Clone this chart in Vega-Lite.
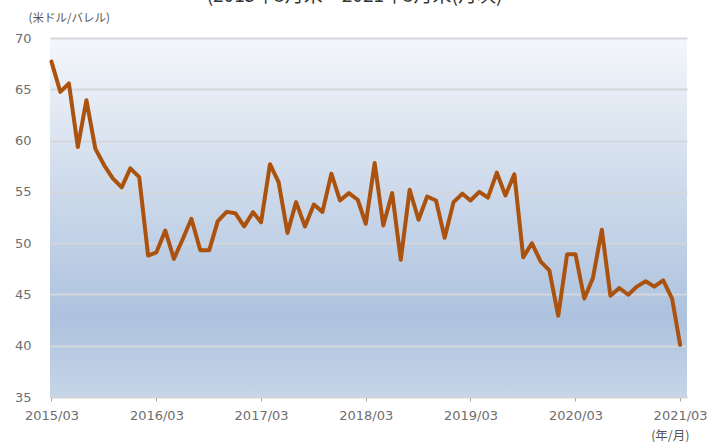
{
  "$schema": "https://vega.github.io/schema/vega-lite/v6.json",
  "width": 637,
  "height": 359,
  "autosize": "none",
  "padding": {"left": 50, "top": 38, "right": 40, "bottom": 45},
  "background": "white",
  "title": {
    "text": "(2015年3月末～2021年3月末(月次)",
    "font": "Noto Sans CJK JP",
    "fontSize": 19,
    "fontWeight": "normal",
    "color": "#333333",
    "anchor": "middle",
    "frame": "group",
    "offset": 6,
    "dx": -14
  },
  "data": {
    "values": [
      {"date": "2015-03-01", "value": 67.7},
      {"date": "2015-04-01", "value": 64.75},
      {"date": "2015-05-01", "value": 65.57},
      {"date": "2015-06-01", "value": 59.37},
      {"date": "2015-07-01", "value": 63.94},
      {"date": "2015-08-01", "value": 59.22},
      {"date": "2015-09-01", "value": 57.59},
      {"date": "2015-10-01", "value": 56.31},
      {"date": "2015-11-01", "value": 55.44},
      {"date": "2015-12-01", "value": 57.29},
      {"date": "2016-01-01", "value": 56.44},
      {"date": "2016-02-01", "value": 48.79},
      {"date": "2016-03-01", "value": 49.11},
      {"date": "2016-04-01", "value": 51.23},
      {"date": "2016-05-01", "value": 48.47},
      {"date": "2016-06-01", "value": 50.4},
      {"date": "2016-07-01", "value": 52.38},
      {"date": "2016-08-01", "value": 49.3},
      {"date": "2016-09-01", "value": 49.3},
      {"date": "2016-10-01", "value": 52.15},
      {"date": "2016-11-01", "value": 53.05},
      {"date": "2016-12-01", "value": 52.92},
      {"date": "2017-01-01", "value": 51.63},
      {"date": "2017-02-01", "value": 53.02},
      {"date": "2017-03-01", "value": 52.04},
      {"date": "2017-04-01", "value": 57.7},
      {"date": "2017-05-01", "value": 55.95},
      {"date": "2017-06-01", "value": 51.0},
      {"date": "2017-07-01", "value": 54.0},
      {"date": "2017-08-01", "value": 51.62},
      {"date": "2017-09-01", "value": 53.76},
      {"date": "2017-10-01", "value": 53.05},
      {"date": "2017-11-01", "value": 56.77},
      {"date": "2017-12-01", "value": 54.16},
      {"date": "2018-01-01", "value": 54.88},
      {"date": "2018-02-01", "value": 54.23},
      {"date": "2018-03-01", "value": 51.89},
      {"date": "2018-04-01", "value": 57.81},
      {"date": "2018-05-01", "value": 51.72},
      {"date": "2018-06-01", "value": 54.88},
      {"date": "2018-07-01", "value": 48.37},
      {"date": "2018-08-01", "value": 55.21},
      {"date": "2018-09-01", "value": 52.28},
      {"date": "2018-10-01", "value": 54.55},
      {"date": "2018-11-01", "value": 54.16},
      {"date": "2018-12-01", "value": 50.52},
      {"date": "2019-01-01", "value": 54.0},
      {"date": "2019-02-01", "value": 54.82},
      {"date": "2019-03-01", "value": 54.16},
      {"date": "2019-04-01", "value": 55.0},
      {"date": "2019-05-01", "value": 54.43},
      {"date": "2019-06-01", "value": 56.87},
      {"date": "2019-07-01", "value": 54.65},
      {"date": "2019-08-01", "value": 56.71},
      {"date": "2019-09-01", "value": 48.62},
      {"date": "2019-10-01", "value": 49.99},
      {"date": "2019-11-01", "value": 48.2},
      {"date": "2019-12-01", "value": 47.35},
      {"date": "2020-01-01", "value": 42.92},
      {"date": "2020-02-01", "value": 48.92},
      {"date": "2020-03-01", "value": 48.92},
      {"date": "2020-04-01", "value": 44.6},
      {"date": "2020-05-01", "value": 46.6},
      {"date": "2020-06-01", "value": 51.3},
      {"date": "2020-07-01", "value": 44.88},
      {"date": "2020-08-01", "value": 45.63},
      {"date": "2020-09-01", "value": 44.97},
      {"date": "2020-10-01", "value": 45.76},
      {"date": "2020-11-01", "value": 46.28},
      {"date": "2020-12-01", "value": 45.76},
      {"date": "2021-01-01", "value": 46.37},
      {"date": "2021-02-01", "value": 44.6},
      {"date": "2021-03-01", "value": 40.09}
    ]
  },
  "mark": {"type": "line", "color": "#ab520e", "strokeWidth": 4, "strokeJoin": "round", "strokeCap": "round"},
  "encoding": {
    "x": {
      "field": "date",
      "type": "temporal",
      "scale": {
        "type": "utc",
        "domain": [
          {"year": 2015, "month": 2, "date": 24, "utc": true},
          {"year": 2021, "month": 3, "date": 25, "utc": true}
        ]
      },
      "axis": {
        "values": [
          {"year": 2015, "month": 3, "date": 1, "utc": true},
          {"year": 2016, "month": 3, "date": 1, "utc": true},
          {"year": 2017, "month": 3, "date": 1, "utc": true},
          {"year": 2018, "month": 3, "date": 1, "utc": true},
          {"year": 2019, "month": 3, "date": 1, "utc": true},
          {"year": 2020, "month": 3, "date": 1, "utc": true},
          {"year": 2021, "month": 3, "date": 1, "utc": true}
        ],
        "labelExpr": "utcFormat(datum.value, '%Y/%m')",
        "grid": false,
        "domainColor": "#cfd3d6",
        "domainWidth": 1,
        "tickColor": "#a8a8a8",
        "tickSize": 4,
        "labelPadding": 8,
        "labelFont": "DejaVu Sans",
        "labelFontSize": 13,
        "labelColor": "#6e6e6e",
        "labelFlush": false,
        "labelOverlap": false,
        "title": "(年/月)",
        "titleFont": "Noto Sans CJK JP",
        "titleFontSize": 12.5,
        "titleFontWeight": "normal",
        "titleColor": "#555555",
        "titleX": 639,
        "titleY": 38,
        "titleAlign": "right",
        "titleBaseline": "middle"
      }
    },
    "y": {
      "field": "value",
      "type": "quantitative",
      "scale": {"domain": [35, 70], "nice": false, "zero": false},
      "axis": {
        "values": [35, 40, 45, 50, 55, 60, 65, 70],
        "grid": true,
        "gridColor": "#d3d7db",
        "gridWidth": 2,
        "domain": false,
        "ticks": false,
        "labelPadding": 19,
        "labelFont": "DejaVu Sans",
        "labelFontSize": 13,
        "labelColor": "#6e6e6e",
        "title": "(米ドル/バレル)",
        "titleFont": "Noto Sans CJK JP",
        "titleFontSize": 11.5,
        "titleFontWeight": "normal",
        "titleColor": "#555555",
        "titleAngle": 0,
        "titleX": -22,
        "titleY": -20,
        "titleAlign": "left",
        "titleBaseline": "middle"
      }
    }
  },
  "config": {
    "view": {
      "stroke": null,
      "fill": {
        "gradient": "linear",
        "x1": 0, "y1": 0, "x2": 0, "y2": 1,
        "stops": [
          {"offset": 0, "color": "#f4f7fb"},
          {"offset": 0.45, "color": "#cbd8ea"},
          {"offset": 0.78, "color": "#adc2de"},
          {"offset": 1, "color": "#c6d5e8"}
        ]
      }
    }
  }
}
